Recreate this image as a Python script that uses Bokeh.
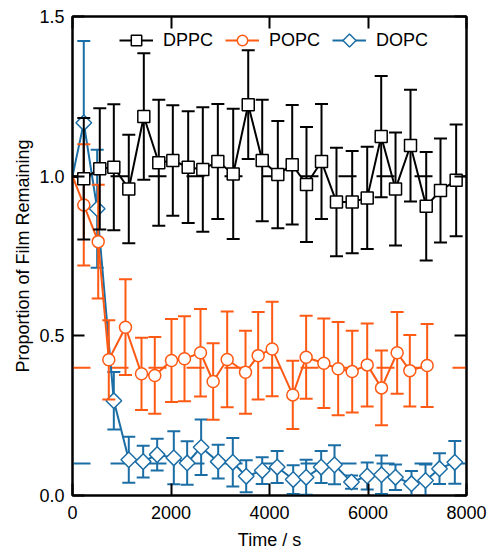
import numpy as np
from bokeh.plotting import figure
from bokeh.models import (Span, LinearAxis, FixedTicker, PrintfTickFormatter,
                          Legend, LegendItem, Range1d, ColumnDataSource, CustomJS)
from bokeh.embed import file_html
from bokeh.resources import INLINE

# ---- data ----
dppc_t = [0, 229, 554, 839, 1143, 1448, 1752, 2037, 2349, 2646, 2951, 3263, 3568, 3852,
          4169, 4461, 4751, 5056, 5360, 5679, 5984, 6268, 6559, 6863, 7182, 7472, 7790]
dppc_y = [1.0, 0.992, 1.023, 1.028, 0.960, 1.187, 1.042, 1.049, 1.028, 1.021, 1.046, 1.007,
          1.224, 1.049, 1.005, 1.036, 0.974, 1.046, 0.919, 0.919, 0.932, 1.124, 0.960,
          1.096, 0.906, 0.955, 0.987]
dppc_err = [0, 0.19, 0.19, 0.197, 0.17, 0.198, 0.197, 0.173, 0.175, 0.195, 0.18, 0.204,
            0.17, 0.19, 0.168, 0.187, 0.18, 0.18, 0.17, 0.16, 0.16, 0.19, 0.177, 0.175,
            0.17, 0.163, 0.175]

popc_t = [0, 229, 522, 737, 1076, 1401, 1671, 2010, 2274, 2599, 2856, 3141, 3513, 3770,
          4054, 4473, 4744, 5103, 5394, 5679, 5984, 6274, 6592, 6849, 7201]
popc_y = [1.0, 0.910, 0.795, 0.425, 0.527, 0.381, 0.376, 0.423, 0.428, 0.447, 0.357, 0.426,
          0.386, 0.438, 0.459, 0.315, 0.433, 0.414, 0.397, 0.388, 0.409, 0.337, 0.447,
          0.391, 0.407]
popc_err = [0, 0.19, 0.178, 0.124, 0.15, 0.113, 0.12, 0.13, 0.133, 0.137, 0.12, 0.15, 0.13,
            0.137, 0.148, 0.107, 0.13, 0.14, 0.146, 0.128, 0.13, 0.117, 0.128, 0.112, 0.13]

dopc_t = [0, 229, 501, 839, 1143, 1435, 1719, 2057, 2328, 2612, 2958, 3255, 3527, 3852,
          4156, 4481, 4744, 5049, 5320, 5665, 5984, 6274, 6558, 6883, 7168, 7452, 7763]
dopc_y = [1.0, 1.167, 0.898, 0.297, 0.112, 0.106, 0.128, 0.118, 0.102, 0.151, 0.106, 0.104,
          0.060, 0.078, 0.089, 0.050, 0.057, 0.089, 0.096, 0.042, 0.061, 0.065, 0.057,
          0.037, 0.047, 0.084, 0.104]
dopc_err = [0, 0.256, 0.185, 0.09, 0.072, 0.05, 0.05, 0.083, 0.068, 0.087, 0.053, 0.076,
            0.05, 0.042, 0.05, 0.045, 0.055, 0.05, 0.061, 0.021, 0.042, 0.06, 0.04, 0.04,
            0.05, 0.048, 0.067]

# plateau reference levels (dashed lines)
plateaus = {"DPPC": 1.0, "POPC": 0.4, "DOPC": 0.1}

x_ticks = [0, 2000, 4000, 6000, 8000]
y_ticks = [0.0, 0.5, 1.0, 1.5]

BLACK = "#000000"
ORANGE = "#ff5a14"
BLUE = "#1b6ea5"
FONT = "Liberation Sans"
FS = "18px"

# open diamond (equal width and height) as a custom marker, painted on the context
DIAMOND = CustomJS(code="""
export default (args, obj, {ctx, i, r, visuals}) => {
    const k = 1.25*r
    ctx.moveTo(0, -k)
    ctx.lineTo(k, 0)
    ctx.lineTo(0, k)
    ctx.lineTo(-k, 0)
    ctx.closePath()
    visuals.fill.apply(ctx, i)
    visuals.hatch.apply(ctx, i)
    visuals.line.apply(ctx, i)
}
""")

p = figure(width=488, height=552, x_range=Range1d(0, 8000), y_range=Range1d(0, 1.5),
           output_backend="svg", toolbar_location=None,
           min_border_left=72, min_border_right=22, min_border_top=16, min_border_bottom=57)
p.xgrid.visible = False
p.ygrid.visible = False
p.outline_line_color = "black"
p.outline_line_width = 2
p.background_fill_color = "white"
p.border_fill_color = "white"

def style_axis(ax, ticks, show_labels):
    ax.ticker = FixedTicker(ticks=ticks)
    ax.major_tick_in = 12
    ax.major_tick_out = 0
    ax.minor_tick_line_color = None
    ax.major_tick_line_width = 2
    ax.major_tick_line_color = "black"
    ax.axis_line_color = "black"
    ax.axis_line_width = 2
    ax.major_label_text_font = FONT
    if show_labels:
        ax.major_label_text_font_size = FS
        ax.major_label_text_color = "black"
    else:
        ax.major_label_text_font_size = "0px"
        ax.major_label_text_color = None
        ax.major_label_standoff = 0

style_axis(p.xaxis[0], x_ticks, True)
style_axis(p.yaxis[0], y_ticks, True)
p.yaxis[0].formatter = PrintfTickFormatter(format="%.1f")
p.xaxis[0].major_label_standoff = 10
p.yaxis[0].major_label_standoff = 8
p.xaxis[0].axis_label = "Time / s"
p.yaxis[0].axis_label = "Proportion of Film Remaining"
for ax in (p.xaxis[0], p.yaxis[0]):
    ax.axis_label_text_font = FONT
    ax.axis_label_text_font_size = FS
    ax.axis_label_text_font_style = "normal"
    ax.axis_label_text_color = "black"
p.xaxis[0].axis_label_standoff = 8
p.yaxis[0].axis_label_standoff = 3

top = LinearAxis()
style_axis(top, x_ticks, False)
p.add_layout(top, "above")
right = LinearAxis()
style_axis(right, y_ticks, False)
p.add_layout(right, "right")

# dashed plateau lines
for name, col in (("DOPC", BLUE), ("POPC", ORANGE), ("DPPC", BLACK)):
    p.add_layout(Span(location=plateaus[name], dimension="width", line_color=col,
                      line_width=2, line_dash="18 20", level="underlay"))

legend_items = {}
series = [
    ("DOPC", dopc_t, dopc_y, dopc_err, BLUE, "@diamond", 12.5),
    ("POPC", popc_t, popc_y, popc_err, ORANGE, "circle", 12),
    ("DPPC", dppc_t, dppc_y, dppc_err, BLACK, "square", 12),
]
for name, t, y, e, col, marker, size in series:
    t = np.array(t, dtype=float)
    y = np.array(y, dtype=float)
    e = np.array(e, dtype=float)
    src = ColumnDataSource(dict(t=t[1:], y=y[1:], lo=(y - e)[1:], hi=(y + e)[1:]))
    p.segment(x0="t", y0="lo", x1="t", y1="hi", source=src, line_color=col, line_width=2)
    p.scatter(x="t", y="lo", source=src, marker="dash", size=13, line_color=col, line_width=2)
    p.scatter(x="t", y="hi", source=src, marker="dash", size=13, line_color=col, line_width=2)
    lr = p.line(t, y, line_color=col, line_width=2)
    kw = {}
    if marker.startswith("@"):
        kw["defs"] = {marker: DIAMOND}
    mr = p.scatter(x="t", y="y", source=src, marker=marker, size=size,
                   line_color=col, line_width=1.5, fill_color="white", **kw)
    legend_items[name] = LegendItem(label=name, renderers=[lr, mr])

legend = Legend(items=[legend_items["DPPC"], legend_items["POPC"], legend_items["DOPC"]],
                orientation="horizontal", location=(47, 442),
                glyph_width=34, glyph_height=26, label_standoff=10, spacing=12,
                padding=0, margin=0, border_line_color=None, background_fill_alpha=0,
                label_text_font=FONT, label_text_font_size=FS, label_text_color="black")
p.add_layout(legend, "center")

open("out.html", "w").write(file_html(p, INLINE))
